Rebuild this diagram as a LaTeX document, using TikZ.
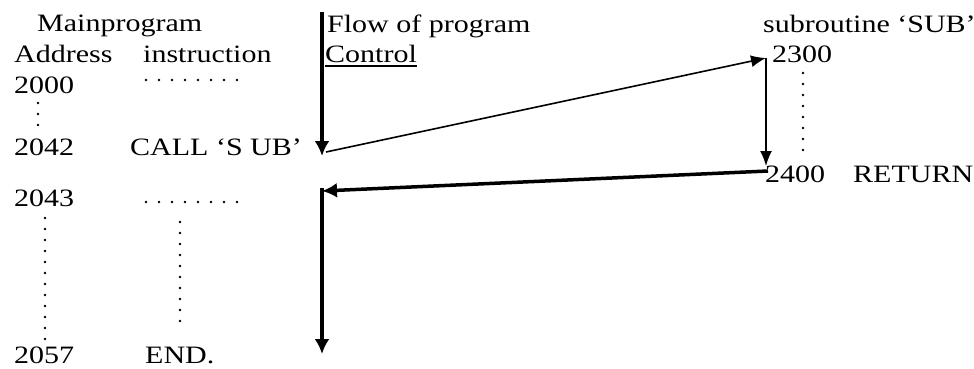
\documentclass[tikz,border=0pt]{standalone}
\usepackage{fontspec}
\setmainfont{Liberation Serif}[FakeStretch=1.2]
\usetikzlibrary{arrows.meta}
\begin{document}
\begin{tikzpicture}[x=1pt,y=-1pt,
  txt/.style={anchor=base west,inner sep=0pt,font=\fontsize{25}{27}\selectfont},
  thick arrow/.style={line width=3.5pt,-{Latex[length=15pt,width=15pt]}},
  thin arrow/.style={line width=1.6pt,-{Latex[length=15pt,width=12pt]}},
  dotrow/.style={line width=2.6pt,line cap=round,dash pattern=on 0pt off 13pt},
  dotcol/.style={line width=2.6pt,line cap=round,dash pattern=on 0pt off 11pt}]
\useasboundingbox (0,0) rectangle (974,368);
% left column texts
\node[txt] (mainprog) at (37,31) {Mainprogram};
\node[txt] (addr) at (14,62) {Address};
\node[txt] (instr) at (143,62) {instruction};
\node[txt] (a2000) at (14,93) {2000};
\node[txt] (a2042) at (14,155) {2042};
\node[txt] (call) at (130,155) {CALL ‘S UB’};
\node[txt] (a2043) at (14,206) {2043};
\node[txt] (a2057) at (14,363) {2057};
\node[txt] (endi) at (145,363) {END.};
% middle texts
\node[txt] (flow) at (327,32) {Flow of program};
\node[txt] (control) at (325,62) {Control};
\draw[line width=1.2pt] (control.base west) ++(0,4) coordinate (ul1) -- (ul1 -| control.east);
% subroutine texts
\node[txt] (sub) at (763,32) {subroutine ‘SUB’};
\node[txt] (a2300) at (772,62) {2300};
\node[txt] (a2400) at (765,182) {2400};
\node[txt] (ret) at (853,182) {RETURN};
% dots
\draw[dotrow] (146,80) -- (240,80);
\draw[dotcol] (38,103) -- (38,126);
\draw[dotrow] (146,202) -- (240,202);
\draw[dotcol] (45,218) -- (45,340);
\draw[dotcol] (180,222) -- (180,326);
\draw[dotcol] (803,73) -- (803,155);
% arrow coordinates
\coordinate (ftop) at (322,12);
\coordinate (fcall) at (322,156);
\coordinate (jstart) at (326,152);
\coordinate (jend) at (766,58);
\coordinate (stop) at (766,58);
\coordinate (sret) at (766,166);
\coordinate (rstart) at (768,171);
\coordinate (rend) at (322,191);
\coordinate (ccorner) at (322,188);
\coordinate (cend) at (322,354);
% arrows
\draw[thick arrow] (ftop) -- (fcall);
\draw[thin arrow] (jstart) -- (jend);
\draw[thin arrow] (stop) -- (sret);
\draw[thick arrow] (rstart) -- (rend);
\draw[thick arrow] (ccorner) -- (cend);
\end{tikzpicture}
\end{document}
